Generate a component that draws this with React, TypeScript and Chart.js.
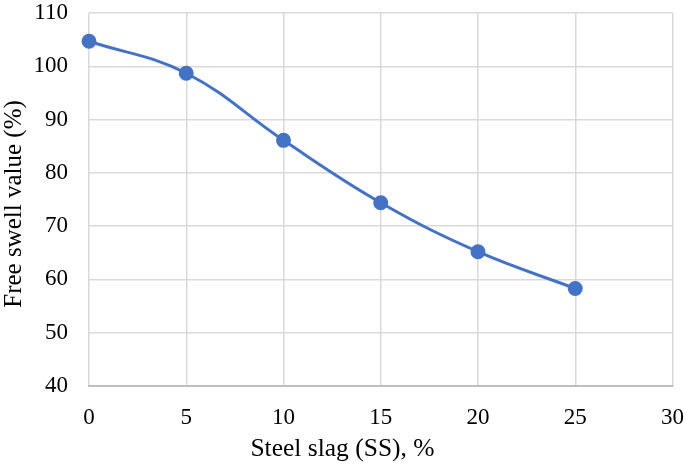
import React, { useEffect, useRef } from "react";
import { Chart, registerables } from "chart.js";

Chart.register(...registerables);

const ssContent = [0, 5, 10, 15, 20, 25];
const freeSwell = [104.7, 98.7, 86.1, 74.4, 65.2, 58.3];
const xTitle = "Steel slag (SS), %";
const yTitle = "Free swell value (%)";

export default function App() {
  const ref = useRef<HTMLCanvasElement>(null);
  useEffect(() => {
    document.body.style.margin = "0";
    const font = "'Liberation Serif', 'Times New Roman', serif";
    const titlePlugin = {
      id: "axisTitles",
      afterDraw(chart: any) {
        const ctx = chart.ctx;
        ctx.save();
        ctx.fillStyle = "#000";
        ctx.textAlign = "center";
        ctx.textBaseline = "middle";
        ctx.font = `25.5px ${font}`;
        ctx.fillText(xTitle, chart.width / 2, 449);
        ctx.translate(14, 204);
        ctx.rotate(-Math.PI / 2);
        ctx.font = `25px ${font}`;
        ctx.fillText(yTitle, 0, 0);
        ctx.restore();
      },
    };
    const chart = new Chart(ref.current!, {
      type: "line",
      data: {
        datasets: [
          {
            data: ssContent.map((x, i) => ({ x, y: freeSwell[i] })),
            borderColor: "#4472C4",
            backgroundColor: "#4472C4",
            borderWidth: 3,
            pointRadius: 6,
            pointHoverRadius: 6,
            tension: 0.4,
            fill: false,
            clip: false,
          },
        ],
      },
      options: {
        animation: false,
        responsive: false,
        maintainAspectRatio: false,
        layout: { padding: { top: 13, right: 12.5, left: 0, bottom: 0 } },
        plugins: { legend: { display: false }, tooltip: { enabled: false } },
        scales: {
          x: {
            type: "linear",
            min: 0,
            max: 30,
            ticks: { stepSize: 5, color: "#000", font: { family: font, size: 23 }, padding: 18 },
            grid: { color: "#d9d9d9", lineWidth: 1.5, drawTicks: false },
            border: { color: "#bfbfbf", width: 2 },
            afterFit: (s: any) => { s.height = 84; s.paddingLeft = 0; s.paddingRight = 0; },
          },
          y: {
            min: 40,
            max: 110,
            ticks: { stepSize: 10, color: "#000", font: { family: font, size: 23 }, padding: 21 },
            grid: { color: "#d9d9d9", lineWidth: 1.5, drawTicks: false },
            border: { display: false },
            afterFit: (s: any) => { s.width = 89; s.paddingTop = 0; s.paddingBottom = 0; },
          },
        },
      },
      plugins: [titlePlugin],
    });
    return () => chart.destroy();
  }, []);
  return (
    <div style={{ width: 685, height: 470 }}>
      <canvas ref={ref} width={685} height={470} style={{ width: 685, height: 470 }} />
    </div>
  );
}
